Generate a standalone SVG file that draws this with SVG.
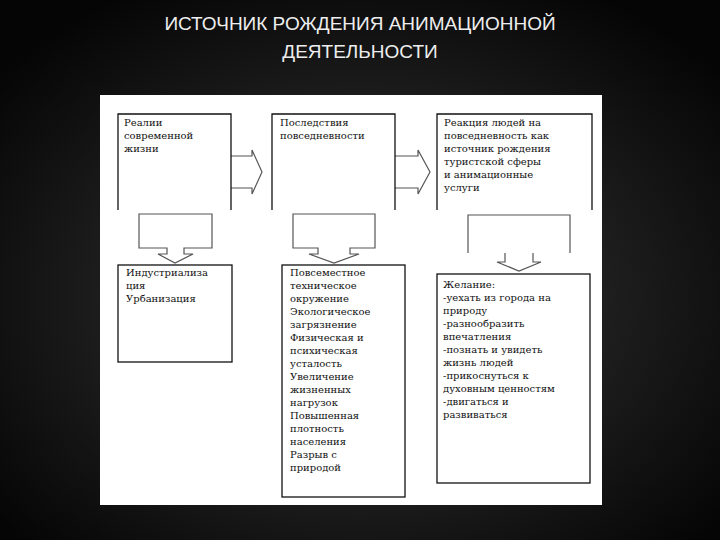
<svg xmlns="http://www.w3.org/2000/svg" width="720" height="540" viewBox="0 0 720 540">
<defs>
<radialGradient id="bg" cx="50%" cy="55%" r="65%"><stop offset="0" stop-color="#3a3a3a"/><stop offset="1" stop-color="#050505"/></radialGradient>
<style>
.t{font-family:"DejaVu Serif","Liberation Serif",serif;font-size:10px;fill:#111}
.b{fill:none;stroke:#111;stroke-width:1.3}
.a{fill:none;stroke:#555;stroke-width:1.2}
.h{font-family:"Liberation Sans",Arial,sans-serif;font-size:19px;fill:#eee;text-anchor:middle}
</style>
</defs>
<rect width="720" height="540" fill="url(#bg)"/>
<text class="h" x="360" y="30">ИСТОЧНИК РОЖДЕНИЯ АНИМАЦИОННОЙ</text>
<text class="h" x="360" y="58">ДЕЯТЕЛЬНОСТИ</text>
<rect x="100" y="95" width="502" height="410" fill="#fff"/>
<g id="connectors">
<path class="a" d="M231,156 H252 V150 L262,172 L252,194 V188 H231"/>
<path class="a" d="M395,156 H418 V150 L430,172 L418,194 V188 H395"/>
<path class="a" d="M167,254 V248 H139 V214 H212 V248 H184 V254 H193 L175,263 L158,254 Z"/>
<path class="a" d="M318,254 V248 H293 V214 H375 V248 H350 V254 H359 L334,263 L309,254 Z"/>
<path class="a" d="M468,253 V215 H570 V253 M505,253 V262 H497 L519,271 L541,262 H533 V253"/>
</g>
<g id="n1"><path class="b" d="M118,210 V114 H231 V210"/><text class="t"><tspan x="124" y="126">Реалии</tspan><tspan x="124" y="139">современной</tspan><tspan x="124" y="152">жизни</tspan></text></g>
<g id="n2"><path class="b" d="M272,210 V114 H395 V210"/><text class="t"><tspan x="280" y="126">Последствия</tspan><tspan x="280" y="139">повседневности</tspan></text></g>
<g id="n3"><path class="b" d="M437,210 V114 H592 V210"/><text class="t"><tspan x="444" y="126">Реакция людей на</tspan><tspan x="444" y="139">повседневность как</tspan><tspan x="444" y="152">источник рождения</tspan><tspan x="444" y="165">туристской сферы</tspan><tspan x="444" y="178">и анимационные</tspan><tspan x="444" y="191">услуги</tspan></text></g>
<g id="n4"><rect class="b" x="118" y="265" width="114" height="97"/><text class="t"><tspan x="126" y="276">Индустриализа</tspan><tspan x="126" y="289">ция</tspan><tspan x="126" y="302">Урбанизация</tspan></text></g>
<g id="n5"><rect class="b" x="282" y="265" width="123" height="232"/><text class="t"><tspan x="290" y="276">Повсеместное</tspan><tspan x="290" y="289">техническое</tspan><tspan x="290" y="302">окружение</tspan><tspan x="290" y="315">Экологическое</tspan><tspan x="290" y="328">загрязнение</tspan><tspan x="290" y="341">Физическая и</tspan><tspan x="290" y="354">психическая</tspan><tspan x="290" y="367">усталость</tspan><tspan x="290" y="380">Увеличение</tspan><tspan x="290" y="393">жизненных</tspan><tspan x="290" y="406">нагрузок</tspan><tspan x="290" y="419">Повышенная</tspan><tspan x="290" y="432">плотность</tspan><tspan x="290" y="445">населения</tspan><tspan x="290" y="458">Разрыв с</tspan><tspan x="290" y="471">природой</tspan></text></g>
<g id="n6"><rect class="b" x="437" y="274" width="153" height="209"/><text class="t"><tspan x="443" y="288">Желание:</tspan><tspan x="443" y="301">-уехать из города на</tspan><tspan x="443" y="314">природу</tspan><tspan x="443" y="327">-разнообразить</tspan><tspan x="443" y="340">впечатления</tspan><tspan x="443" y="353">-познать и увидеть</tspan><tspan x="443" y="366">жизнь людей</tspan><tspan x="443" y="379">-прикоснуться к</tspan><tspan x="443" y="392">духовным ценностям</tspan><tspan x="443" y="405">-двигаться и</tspan><tspan x="443" y="418">развиваться</tspan></text></g>
</svg>
